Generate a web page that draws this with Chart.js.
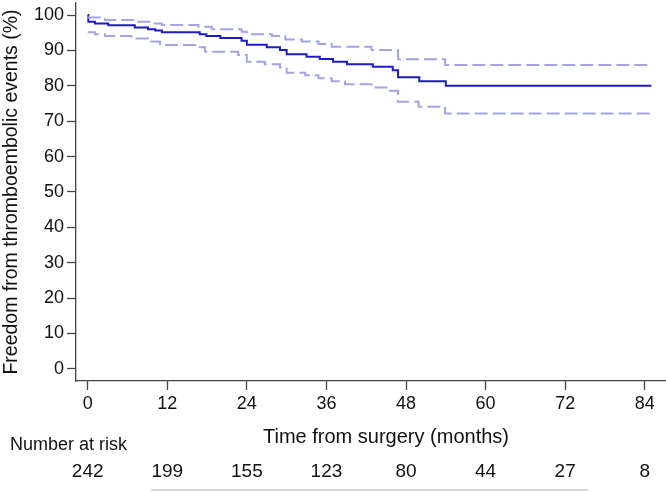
<!DOCTYPE html>
<html>
<head>
<meta charset="utf-8">
<script src="https://cdn.jsdelivr.net/npm/chart.js@4.4.1/dist/chart.umd.min.js"></script>
<style>
  html, body { margin: 0; padding: 0; background: #fff; }
</style>
</head>
<body>
<canvas id="kmChart" width="666" height="492"></canvas>
<script>
// survival estimate (step function, level starts at given month)
const survTime = [0, 0.1, 1.1, 3.1, 7.1, 9.1, 10.2, 11.2, 16.9, 17.9, 20, 23.2, 24, 27, 29, 30, 33, 35, 37, 39.1, 43, 46, 46.8, 50, 54, 85];
const surv = [100, 98.1, 97.6, 97.1, 96.5, 96.0, 95.6, 95.1, 94.6, 94.1, 93.5, 92.7, 91.6, 90.9, 90.1, 88.9, 88.2, 87.6, 86.8, 86.1, 85.4, 84.4, 82.4, 81.3, 80.0, 80.0];

// upper 95% CI
const upperTime = [0, 2.6, 6.9, 9.6, 11.2, 16.7, 18.7, 23.2, 24, 27.8, 29.8, 32.3, 34.8, 36.8, 42.8, 46.8, 53.9, 85];
const upper = [99.3, 98.6, 98.1, 97.6, 97.2, 96.7, 96.0, 95.3, 94.6, 94.1, 93.1, 92.5, 91.8, 91.0, 90.1, 87.5, 85.9, 85.9];

// lower 95% CI
const lowerTime = [0, 1.1, 2.6, 6.6, 9.1, 10.9, 16.7, 17.7, 22.7, 24, 26.7, 29, 30, 32.8, 34.8, 36.8, 38.8, 42.8, 45.6, 46.8, 49.9, 53.9, 85];
const lower = [95.1, 94.6, 94.1, 93.4, 92.5, 91.5, 90.9, 89.6, 88.7, 86.8, 86.1, 85.2, 83.7, 83.0, 82.1, 81.3, 80.4, 79.5, 78.6, 75.5, 74.1, 72.2, 72.2];

// axis ticks and number at risk
const xTicks = [0, 12, 24, 36, 48, 60, 72, 84];
const yTicks = [0, 10, 20, 30, 40, 50, 60, 70, 80, 90, 100];
const atRisk = [242, 199, 155, 123, 80, 44, 27, 8];

const FONT = "'Liberation Sans', Arial, sans-serif";
const AXIS = "#444";

const toPts = (xs, ys) => xs.map((x, i) => ({x: x, y: ys[i]}));

const riskTable = {
  id: "riskTable",
  afterDraw(chart) {
    const ctx = chart.ctx;
    const xs = chart.scales.x;
    ctx.save();
    ctx.fillStyle = "#111";
    ctx.textBaseline = "middle";
    ctx.textAlign = "center";
    ctx.font = "20px " + FONT;
    ctx.fillText("Time from surgery (months)", 386, 437);
    ctx.textAlign = "left";
    ctx.font = "18px " + FONT;
    ctx.fillText("Number at risk", 10, 445);
    ctx.textAlign = "center";
    ctx.font = "19px " + FONT;
    atRisk.forEach((n, i) => {
      ctx.fillText(String(n), xs.getPixelForValue(xTicks[i]), 472);
    });
    ctx.strokeStyle = "#d8d8d8";
    ctx.lineWidth = 2;
    ctx.beginPath();
    ctx.moveTo(151, 490);
    ctx.lineTo(588, 490);
    ctx.stroke();
    ctx.restore();
  }
};

new Chart("kmChart", {
  type: "line",
  data: {
    datasets: [
      {data: toPts(upperTime, upper), borderColor: "#a3a3e6", borderWidth: 2, borderDash: [13, 5], stepped: "before", pointRadius: 0, fill: false},
      {data: toPts(lowerTime, lower), borderColor: "#a3a3e6", borderWidth: 2, borderDash: [13, 5], stepped: "before", pointRadius: 0, fill: false},
      {data: toPts(survTime, surv), borderColor: "#1c1cc8", borderWidth: 2, stepped: "before", pointRadius: 0, fill: false}
    ]
  },
  options: {
    responsive: false,
    animation: false,
    layout: {padding: {top: 3, right: 0, left: 0, bottom: 0}},
    plugins: {legend: {display: false}, tooltip: {enabled: false}},
    scales: {
      x: {
        type: "linear",
        min: -1.76,
        max: 87.2,
        afterBuildTicks: s => { s.ticks = xTicks.map(v => ({value: v})); },
        afterFit: s => { s.height = 111; s.paddingLeft = 0; s.paddingRight = 0; },
        grid: {drawOnChartArea: false, tickLength: 9, color: AXIS, tickWidth: 1.3},
        border: {color: AXIS, width: 1.3},
        ticks: {color: "#111", font: {size: 18, family: FONT}, padding: 3, maxRotation: 0}
      },
      y: {
        type: "linear",
        min: -3.45,
        max: 103.4,
        afterBuildTicks: s => { s.ticks = yTicks.map(v => ({value: v})); },
        afterFit: s => { s.width = 76; s.paddingTop = 0; s.paddingBottom = 0; },
        grid: {drawOnChartArea: false, tickLength: 9, color: AXIS, tickWidth: 1.3},
        border: {color: AXIS, width: 1.3},
        ticks: {color: "#111", font: {size: 18, family: FONT}, padding: 3},
        title: {
          display: true,
          text: "Freedom from thromboembolic events (%)",
          color: "#111",
          font: {size: 19.5, family: FONT},
          padding: {top: 0, bottom: 0}
        }
      }
    }
  },
  plugins: [riskTable]
});
</script>
</body>
</html>
